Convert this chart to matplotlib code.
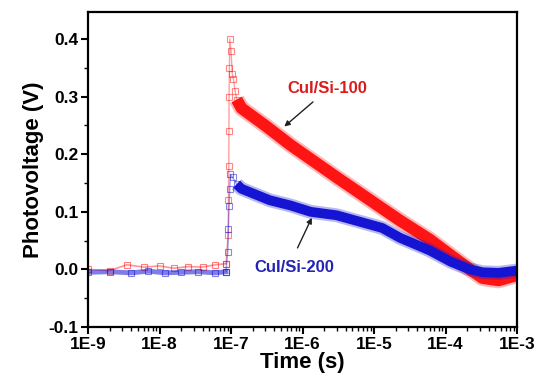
import matplotlib
matplotlib.use("Agg")
import matplotlib.pyplot as plt
import matplotlib.ticker as mticker

plt.rcParams['font.family'] = ['Liberation Sans', 'DejaVu Sans']
plt.rcParams['font.weight'] = 'bold'

# ---- data ----
t_red = [1e-9, 2e-9, 3.5e-9, 6e-9, 1e-8, 1.6e-8, 2.5e-8, 4e-8, 6e-8, 8.5e-8,
         9.1e-8, 9.2e-8, 9.3e-8, 9.35e-8, 9.4e-8, 9.5e-8, 9.6e-8,
         1.0e-7, 1.04e-7, 1.08e-7, 1.14e-7, 1.2e-7,
         1.4e-7, 3e-7, 6.8e-7, 3e-6, 1.3e-5, 2.3e-5, 6e-5, 1.2e-4, 2.2e-4,
         3.3e-4, 5.5e-4, 1e-3]
v_red = [0.0, -0.002, 0.008, 0.004, 0.006, 0.002, 0.005, 0.004, 0.008, 0.01,
         0.06, 0.12, 0.18, 0.24, 0.30, 0.35, 0.40,
         0.38, 0.34, 0.33, 0.31, 0.295,
         0.28, 0.25, 0.216, 0.16, 0.106, 0.085, 0.052, 0.024, 0.0,
         -0.015, -0.019, -0.01]

t_blue = [1e-9, 2e-9, 4e-9, 7e-9, 1.2e-8, 2e-8, 3.5e-8, 6e-8, 8.5e-8,
          9.0e-8, 9.2e-8, 9.4e-8, 9.6e-8, 9.8e-8, 1.05e-7, 1.2e-7,
          1.4e-7, 3.5e-7, 6.8e-7, 1.3e-6, 3e-6, 1.3e-5, 2.3e-5, 6e-5, 1.2e-4,
          2.2e-4, 3.3e-4, 5.5e-4, 1e-3]
v_blue = [-0.005, -0.004, -0.006, -0.003, -0.006, -0.005, -0.004, -0.006, -0.004,
          0.03, 0.07, 0.11, 0.14, 0.165, 0.16, 0.148,
          0.14, 0.12, 0.111, 0.10, 0.094, 0.072, 0.055, 0.033, 0.013,
          0.0, -0.005, -0.006, -0.002]

red_rise_start = 9
red_decay_start = 21
blue_rise_start = 8
blue_decay_start = 15

x_ticks = [1e-9, 1e-8, 1e-7, 1e-6, 1e-5, 1e-4, 1e-3]
x_tick_labels = ['1E-9', '1E-8', '1E-7', '1E-6', '1E-5', '1E-4', '1E-3']
y_ticks = [-0.1, 0.0, 0.1, 0.2, 0.3, 0.4]
y_tick_labels = ['-0.1', '0.0', '0.1', '0.2', '0.3', '0.4']

label_red = 'CuI/Si-100'
label_blue = 'CuI/Si-200'

RED = '#ff1414'
BLUE = '#1414d2'

fig = plt.figure(figsize=(5.38, 3.83), dpi=100)
ax = fig.add_axes([0.1636, 0.1462, 0.7974, 0.8225])
ax.set_xscale('log')

def draw(t, v, rise, start, color, lw, base_lw, base_alpha):
    # noisy baseline
    ax.plot(t[:rise + 1], v[:rise + 1], '-', color=color, lw=base_lw, alpha=base_alpha)
    ax.plot(t[:rise + 1], v[:rise + 1], 's', mfc='none', mec=color, ms=4,
            mew=0.8, alpha=0.55)
    # rise and spike: column of open squares
    ax.plot(t[rise:start + 1], v[rise:start + 1], '-', color=color, lw=1.0, alpha=0.4)
    ax.plot(t[rise:start + 1], v[rise:start + 1], 's', mfc='none', mec=color, ms=4,
            mew=0.8, alpha=0.5)
    # dense decay band
    ax.plot(t[start:], v[start:], '-', color=color, lw=lw + 3, alpha=0.3,
            solid_capstyle='butt', solid_joinstyle='round')
    ax.plot(t[start:], v[start:], '-', color=color, lw=lw,
            solid_capstyle='butt', solid_joinstyle='round')

draw(t_red, v_red, red_rise_start, red_decay_start, RED, 8.5, 1.2, 0.45)
draw(t_blue, v_blue, blue_rise_start, blue_decay_start, BLUE, 7.0, 3.5, 0.55)

ax.set_xlim(1e-9, 1e-3)
ax.set_ylim(-0.1, 0.447)

ax.set_xticks(x_ticks)
ax.set_xticklabels(x_tick_labels)
ax.xaxis.set_minor_locator(mticker.LogLocator(base=10, subs=range(2, 10), numticks=20))
ax.xaxis.set_minor_formatter(mticker.NullFormatter())
ax.set_yticks(y_ticks)
ax.set_yticklabels(y_tick_labels)
ax.yaxis.set_minor_locator(mticker.MultipleLocator(0.05))

ax.tick_params(which='major', direction='out', length=5, width=1.5, labelsize=12.5, pad=2)
ax.tick_params(which='minor', direction='out', length=3, width=1.0)
for s in ax.spines.values():
    s.set_linewidth(1.6)

ax.set_xlabel('Time (s)', fontsize=16, fontweight='bold', labelpad=0)
ax.set_ylabel('Photovoltage (V)', fontsize=16, fontweight='bold', labelpad=3)

ax.text(2.2e-6, 0.315, label_red, color='#d81c1c', fontsize=12, fontweight='bold',
        ha='center', va='center')
ax.annotate('', xy=(5.2e-7, 0.245), xytext=(1.5e-6, 0.294),
            arrowprops=dict(arrowstyle='-|>', color='#202020', lw=1.0,
                            mutation_scale=8))
ax.text(7.8e-7, 0.0035, label_blue, color='#2424b4', fontsize=12, fontweight='bold',
        ha='center', va='center')
ax.annotate('', xy=(1.4e-6, 0.094), xytext=(8.2e-7, 0.033),
            arrowprops=dict(arrowstyle='-|>', color='#202020', lw=1.0,
                            mutation_scale=8))

fig.savefig('out.png', dpi=100)
